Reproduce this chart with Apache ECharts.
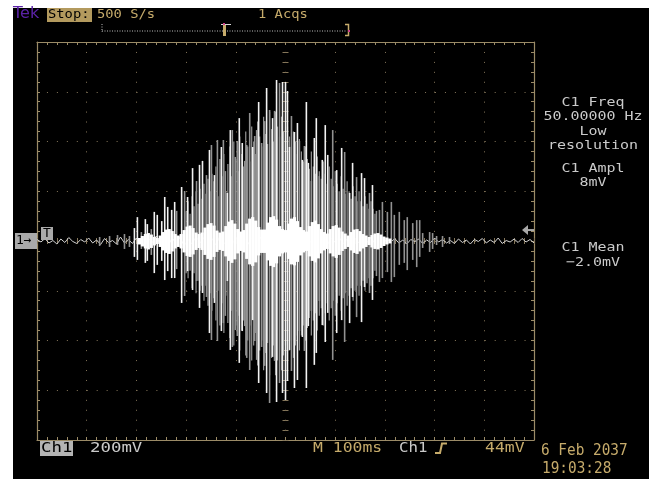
<!DOCTYPE html>
<html>
<head>
<meta charset="utf-8">
<script src="https://cdn.jsdelivr.net/npm/echarts@6/dist/echarts.min.js"></script>
<style>
  body { margin: 0; background: #fff; }
  #screen { position: absolute; left: 13px; top: 8px; width: 636px; height: 471px; background: #000; }
  #scope { position: absolute; left: 0; top: 0; width: 664px; height: 479px; }
</style>
</head>
<body>
<div id="screen"></div>
<div id="scope"></div>
<script>
// time in ms (0 = screen centre), volts in mV, 200mV/div, 100ms/div
var baseTime = [
  -500,-492,-484,-476,-468,-460,-452,-444,-436,-428,
  -420,-412,-404,-396,-388,-380,-372,-364,-356,-348,
  -340,-332,-324,-316,-308,-300,-292,-284,-276,-268,
  -260,-252,-244,-236,-228,-220,-212,-204,-196,-188,
  -180,-172,-164,-156,-148,-140,-132,-124,-116,-108,
  -100,-92,-84,-76,-68,-60,-52,-44,-36,-28,
  -20,-12,-4,4,12,20,28,36,44,52,
  60,68,76,84,92,100,108,116,124,132,
  140,148,156,164,172,180,188,196,204,212,
  220,228,236,244,252,260,268,276,284,292,
  300,308,316,324,332,340,348,356,364,372,
  380,388,396,404,412,420,428,436,444,452,
  460,468,476,484,492,500
];
var baseValue = [
  6,-4,10,-8,2,-12,8,-6,14,-2,
  -10,6,-4,12,-8,4,-14,10,-6,2,
  -12,16,-8,6,-10,12,-4,-16,10,-6,
  20,-14,8,-18,12,-10,16,-20,6,-12,
  18,-8,14,-22,10,-16,20,-12,8,-18,
  16,-10,22,-14,12,-20,18,-8,14,-16,
  10,-18,20,-12,16,-10,14,-20,12,-8,
  18,-14,10,-16,12,-6,16,-12,8,-14,
  10,-8,12,-6,14,-10,6,-12,8,-4,
  10,-8,4,-12,6,-2,8,-10,4,-6,
  12,-4,6,-8,2,-10,8,-6,4,-12,
  6,-2,10,-8,4,-6,12,-10,2,-4,
  8,-6,10,-4,6,-8
];

// individual swings of the burst: time, top, bottom, bright(1)/dim(0)
var spikeTime = [
  -374,-354,-338,-324,-314,-304,-298,-290,-282,-278,
  -270,-264,-258,-249,-243,-237,-229,-223,-219,-209,
  -203,-197,-187,-179,-173,-167,-159,-153,-149,-143,
  -137,-129,-125,-121,-117,-111,-107,-101,-97,-93,
  -87,-82,-78,-72,-66,-62,-58,-54,-48,-42,
  -38,-32,-26,-22,-18,-12,-6,0,4,8,
  12,18,24,28,34,38,42,46,52,58,
  62,68,74,80,85,95,103,113,119,129,
  135,143,153,159,169,175,183,189,195,205,
  213,219,229,239,245,256,264,270,276,290,
  296,304,316,330
];
var spikeHigh = [
  16,20,24,28,20,52,96,36,88,68,
  48,117,105,80,177,137,125,157,121,217,
  201,177,293,241,306,322,265,366,386,265,
  406,378,406,281,193,446,446,338,402,494,
  394,322,386,515,378,422,446,559,394,482,
  615,527,494,523,647,635,639,639,603,378,
  503,438,474,402,326,382,559,314,241,414,
  494,261,326,466,346,446,285,374,358,193,
  314,257,273,253,193,225,121,125,157,117,
  157,105,117,84,96,72,84,84,32,36,
  32,20,20,16
];
var spikeLow = [
  -20,-24,-16,-32,-24,-64,-76,-32,-88,-80,
  -56,-129,-96,-80,-157,-121,-149,-149,-113,-249,
  -221,-121,-197,-161,-269,-209,-225,-370,-398,-249,
  -402,-362,-330,-301,-161,-438,-426,-358,-382,-490,
  -362,-342,-470,-519,-318,-402,-478,-571,-426,-502,
  -611,-651,-466,-482,-647,-571,-611,-639,-563,-438,
  -523,-591,-559,-362,-386,-442,-591,-342,-281,-498,
  -450,-241,-338,-406,-289,-478,-370,-318,-406,-330,
  -225,-306,-326,-185,-209,-237,-141,-165,-149,-125,
  -165,-145,-96,-88,-117,-76,-105,-64,-28,-44,
  -32,-16,-24,-12
];
var spikeBright = [
  0,0,0,0,0,1,1,0,1,1,
  0,1,1,1,1,1,1,1,0,1,
  0,1,1,0,1,1,0,1,0,1,
  0,1,0,0,1,1,0,0,0,1,
  1,0,0,0,1,0,0,1,0,0,
  1,0,1,0,1,0,1,1,1,1,
  0,1,1,0,1,0,1,1,0,1,
  1,0,1,1,1,0,1,1,0,1,
  1,0,1,1,0,1,0,0,0,0,
  0,0,0,0,0,0,0,0,0,0,
  0,0,0,0
];

// dim grey fill between the big swings
var hazeTime = [
  -200,-196,-192,-188,-184,-180,-176,-172,-168,-164,
  -160,-156,-152,-148,-144,-140,-136,-132,-128,-124,
  -120,-116,-112,-108,-104,-100,-96,-92,-88,-84,
  -80,-76,-72,-68,-64,-60,-56,-52,-48,-44,
  -40,-36,-32,-28,-24,-20,-16,-12,-8,-4,
  0,4,8,12,16,20,24,28,32,36,
  40,44,48,52,56,60,64,68,72,76,
  80,84,88,92,96,100,104,108,112,116,
  120,124,128,132,136,140,144,148,152,156,
  160,164,168,172,176,180
];
var hazeHigh = [
  120,160,110,180,140,200,150,210,170,230,
  190,250,200,270,240,300,180,330,260,350,
  200,310,380,260,400,330,280,420,350,300,
  440,380,320,460,400,350,480,420,380,500,
  430,390,520,450,400,520,460,420,500,440,
  400,460,420,380,440,400,350,410,360,320,
  380,330,290,360,300,270,340,280,250,320,
  270,230,300,250,220,280,230,200,260,210,
  190,240,200,170,220,180,160,200,160,140,
  180,150,130,160,130,110
];
var hazeLow = [
  -130,-150,-120,-190,-130,-210,-160,-200,-180,-240,
  -180,-260,-210,-280,-230,-320,-200,-340,-250,-370,
  -220,-330,-390,-280,-420,-340,-300,-440,-360,-320,
  -460,-400,-340,-480,-420,-370,-500,-440,-400,-520,
  -450,-410,-540,-470,-420,-540,-480,-440,-520,-460,
  -420,-480,-440,-400,-470,-420,-380,-440,-380,-340,
  -400,-350,-310,-380,-320,-290,-360,-300,-270,-340,
  -290,-250,-320,-270,-240,-300,-250,-220,-280,-230,
  -210,-260,-220,-190,-240,-200,-180,-220,-180,-160,
  -200,-170,-150,-180,-150,-120
];

// bright dense core around the baseline
var coreTime = [
  -294,-288,-282,-276,-270,-264,-258,-252,-246,-240,
  -234,-228,-222,-216,-210,-204,-198,-192,-186,-180,
  -174,-168,-162,-156,-150,-144,-138,-132,-126,-120,
  -114,-108,-102,-96,-90,-84,-78,-72,-66,-60,
  -54,-48,-42,-36,-30,-24,-18,-12,-6,0,
  6,12,18,24,30,36,42,48,54,60,
  66,72,78,84,90,96,102,108,114,120,
  126,132,138,144,150,156,162,168,174,180,
  186,192,198,204,210
];
var coreHigh = [
  12,20,28,32,26,16,12,
  22,36,46,48,40,28,22,
  28,44,58,62,52,34,28,
  34,54,68,72,62,42,34,
  38,60,78,84,70,48,38,
  44,70,90,96,82,56,46,
  46,74,96,100,86,60,48,
  44,70,90,96,80,56,44,
  38,60,76,82,68,48,36,
  30,48,60,64,54,38,30,
  22,36,46,48,40,28,22,
  16,24,30,32,26,18,14,
  10
];
var coreLow = [
  -14,-22,-30,-34,-28,-18,-12,
  -24,-38,-48,-52,-42,-30,-24,
  -30,-46,-60,-64,-54,-36,-28,
  -36,-56,-72,-76,-64,-44,-36,
  -40,-62,-80,-88,-74,-50,-40,
  -46,-72,-94,-100,-86,-58,-48,
  -48,-78,-100,-105,-90,-62,-50,
  -46,-72,-94,-98,-84,-58,-46,
  -40,-62,-80,-86,-70,-50,-38,
  -32,-50,-62,-68,-56,-40,-32,
  -24,-38,-48,-52,-42,-30,-24,
  -16,-26,-32,-34,-28,-20,-14,
  -10
];

var triggerLevel = 44;

var tan = '#c6ab6b';
var grayTxt = '#cacaca';
var frame = '#9b8b67';
var dots = '#85765a';

var baseData = baseTime.map(function (t, i) { return [t, baseValue[i]]; });
var spikeData = spikeTime.map(function (t, i) { return [t, spikeHigh[i], spikeLow[i], spikeBright[i]]; });
var hazeData = hazeTime.map(function (t, i) { return [t, hazeHigh[i], hazeLow[i], 0]; });
var coreData = coreTime.map(function (t, i) { return [t, coreHigh[i], coreLow[i], 1]; });

function segment(width, bright, dim) {
  return function (params, api) {
    var a = api.coord([api.value(0), api.value(1)]);
    var b = api.coord([api.value(0), api.value(2)]);
    return {
      type: 'line',
      shape: { x1: a[0], y1: a[1], x2: b[0], y2: b[1] },
      style: { stroke: api.value(3) === 0 ? dim : bright, lineWidth: width }
    };
  };
}

function xAx(pos, opts) {
  return Object.assign({
    type: 'value', min: -500, max: 500, interval: 100, position: pos,
    axisLine: { show: true, onZero: false, lineStyle: { color: frame, width: 1.2 } },
    axisTick: { show: true, inside: true, length: 3, lineStyle: { color: frame } },
    minorTick: { show: true, splitNumber: 5, length: 3, lineStyle: { color: frame } },
    axisLabel: { show: false },
    splitLine: { show: false }
  }, opts);
}
function yAx(pos, opts) {
  return Object.assign({
    type: 'value', min: -800, max: 800, interval: 200, position: pos,
    axisLine: { show: true, onZero: false, lineStyle: { color: frame, width: 1.2 } },
    axisTick: { show: true, inside: true, length: 3, lineStyle: { color: frame } },
    minorTick: { show: true, splitNumber: 5, length: 3, lineStyle: { color: frame } },
    axisLabel: { show: false },
    splitLine: { show: false }
  }, opts);
}

var chart = echarts.init(document.getElementById('scope'));
chart.setOption({
  animation: false,
  backgroundColor: 'transparent',
  grid: { left: 37, top: 42, width: 497, height: 398 },
  xAxis: [
    xAx('bottom', { splitLine: { show: true, lineStyle: { color: dots, width: 1, type: [1, 8.94] } } }),
    xAx('top'),
    xAx('bottom', { axisLine: { show: false, onZero: true }, minorTick: { show: true, splitNumber: 5, length: 3, lineStyle: { color: dots } }, axisTick: { show: true, inside: true, length: 3, lineStyle: { color: dots } } }),
    xAx('bottom', { axisLine: { show: false, onZero: true }, minorTick: { show: true, splitNumber: 5, length: 3, lineStyle: { color: dots } }, axisTick: { show: true, inside: false, length: 3, lineStyle: { color: dots } } })
  ],
  yAxis: [
    yAx('left', { splitLine: { show: true, lineStyle: { color: dots, width: 1, type: [1, 8.95] } } }),
    yAx('right'),
    yAx('left', { axisLine: { show: false, onZero: true }, minorTick: { show: true, splitNumber: 5, length: 3, lineStyle: { color: dots } }, axisTick: { show: true, inside: true, length: 3, lineStyle: { color: dots } } }),
    yAx('left', { axisLine: { show: false, onZero: true }, minorTick: { show: true, splitNumber: 5, length: 3, lineStyle: { color: dots } }, axisTick: { show: true, inside: false, length: 3, lineStyle: { color: dots } } })
  ],
  series: [
    {
      type: 'line', data: baseData, showSymbol: false, silent: true, z: 1,
      lineStyle: { color: '#d4d4d4', width: 1 }
    },
    {
      type: 'custom', data: hazeData, silent: true, z: 2,
      encode: { x: 0, y: [1, 2] },
      renderItem: segment(1.2, '#959595', '#959595')
    },
    {
      type: 'custom', data: spikeData, silent: true, z: 3,
      encode: { x: 0, y: [1, 2] },
      renderItem: segment(1.6, '#f2f2f2', '#929292')
    },
    {
      type: 'custom', data: coreData, silent: true, z: 4,
      encode: { x: 0, y: [1, 2] },
      renderItem: segment(3.2, '#ffffff', '#ffffff')
    }
  ]
});

var gy = chart.convertToPixel({ yAxisIndex: 0 }, 0);
var ty = chart.convertToPixel({ yAxisIndex: 0 }, triggerLevel);
var mono = '"DejaVu Sans Mono"';

function label(x, y, s, size, sx, color, align) {
  return {
    type: 'text', x: x, y: y, scaleX: sx, z: 10,
    style: { text: s, font: size + 'px ' + mono, fill: color, textAlign: align || 'left', textVerticalAlign: 'middle' }
  };
}

var g = [
  { type: 'text', x: 13, y: 14, style: { text: 'Tek', font: '16px "DejaVu Sans"', fill: '#5b22a8', textVerticalAlign: 'middle' } },
  { type: 'rect', shape: { x: 47, y: 8, width: 45, height: 14 }, style: { fill: '#b39a5e' } },
  label(48, 15, 'Stop:', 12.3, 1.12, '#000'),
  label(97, 14.5, '500 S/s', 12.3, 1.12, tan),
  label(258, 14.5, '1 Acqs', 12.3, 1.12, tan),

  { type: 'line', shape: { x1: 102, y1: 31, x2: 223, y2: 31 }, style: { stroke: '#bdbdbd', lineDash: [1, 1.5], lineWidth: 1 } },
  { type: 'line', shape: { x1: 227, y1: 31, x2: 347, y2: 31 }, style: { stroke: '#bdbdbd', lineDash: [1, 1.5], lineWidth: 1 } },
  { type: 'line', shape: { x1: 102, y1: 24, x2: 102, y2: 32 }, style: { stroke: '#bdbdbd', lineDash: [1, 1.5], lineWidth: 1 } },
  { type: 'rect', shape: { x: 223, y: 24, width: 3, height: 12 }, style: { fill: tan } },
  { type: 'line', shape: { x1: 221, y1: 24.5, x2: 231, y2: 24.5 }, style: { stroke: '#d8d8d8', lineWidth: 1 } },
  { type: 'rect', shape: { x: 223, y: 23, width: 2, height: 2 }, style: { fill: '#d0408a' } },
  { type: 'polyline', shape: { points: [[345, 24.5], [348.5, 24.5], [348.5, 35.5], [345, 35.5]] }, style: { stroke: tan, lineWidth: 1.5, fill: null } },
  { type: 'rect', shape: { x: 348, y: 30, width: 2, height: 2 }, style: { fill: '#d0408a' } },

  label(593, 102.5, 'C1 Freq', 12.8, 1.17, grayTxt, 'center'),
  label(593, 117, '50.00000 Hz', 12.8, 1.17, grayTxt, 'center'),
  label(593, 132, 'Low', 12.8, 1.17, grayTxt, 'center'),
  label(593, 146, 'resolution', 12.8, 1.17, grayTxt, 'center'),
  label(593, 168.5, 'C1 Ampl', 12.8, 1.17, grayTxt, 'center'),
  label(593, 182.5, '8mV', 12.8, 1.17, grayTxt, 'center'),
  label(593, 247.5, 'C1 Mean', 12.8, 1.17, grayTxt, 'center'),
  label(593, 262.5, '\u22122.0mV', 12.8, 1.17, grayTxt, 'center'),

  { type: 'rect', shape: { x: 40, y: 441, width: 33, height: 15 }, style: { fill: '#b4b4b4' } },
  label(41, 448.5, 'Ch1', 13.7, 1.27, '#000'),
  label(90, 448.5, '200mV', 13.7, 1.27, grayTxt),
  label(313, 448.5, 'M 100ms', 13.7, 1.2, tan),
  label(399, 448.5, 'Ch1', 13.7, 1.15, grayTxt),
  { type: 'polyline', shape: { points: [[435, 453], [440, 453], [442, 443.5], [447, 443.5]] }, style: { stroke: tan, lineWidth: 2, fill: null } },
  label(485, 448.5, '44mV', 13.7, 1.2, tan),
  label(541, 451.5, '6 Feb 2037', 15, 0.96, tan),
  label(542, 469.5, '19:03:28', 15, 0.96, tan),

  { type: 'rect', shape: { x: 15, y: gy - 8, width: 22, height: 16 }, style: { fill: '#a9a9a9' }, z: 10 },
  label(16, gy, '1\u2192', 13, 1, '#000'),
  { type: 'rect', shape: { x: 41, y: gy - 14, width: 12, height: 13 }, style: { fill: '#a9a9a9' }, z: 10 },
  label(47, gy - 7.5, 'T', 13, 1, '#000', 'center'),
  { type: 'polygon', shape: { points: [[522, ty], [528, ty - 5], [528, ty + 5]] }, style: { fill: '#a8a8a8' }, z: 10 },
  { type: 'line', shape: { x1: 527, y1: ty, x2: 534, y2: ty }, style: { stroke: '#a8a8a8', lineWidth: 2 }, z: 10 }
];
chart.setOption({ graphic: { elements: g } });
</script>
</body>
</html>
